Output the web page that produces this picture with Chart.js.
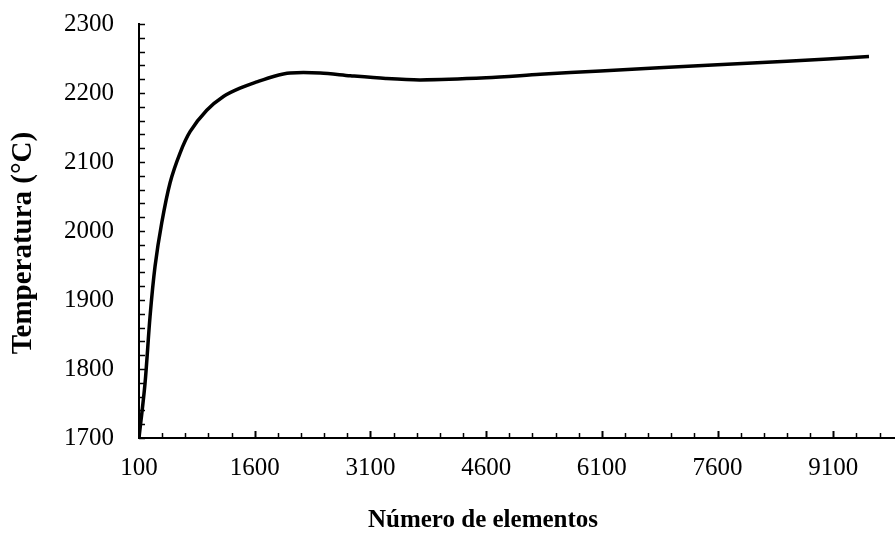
<!DOCTYPE html>
<html>
<head>
<meta charset="utf-8">
<script src="https://cdn.jsdelivr.net/npm/chart.js@4.4.1/dist/chart.umd.min.js"></script>
<style>
  html, body { margin: 0; padding: 0; background: #ffffff; overflow: hidden; }
  #wrap { width: 895px; height: 536px; position: relative; }
</style>
</head>
<body>
<div id="wrap"><canvas id="c" width="895" height="536"></canvas></div>
<script>
// ---- data ----
const elementCounts = [100, 178, 243, 308, 395, 503, 632, 762, 978, 1194, 1410, 1627, 1843, 2059, 2450, 2840, 3300, 3750, 4600, 5300, 6082, 7600, 8500, 9563];
const temperatures  = [1700, 1779, 1876, 1949, 2012, 2070, 2113, 2144, 2175, 2195, 2207, 2216, 2224, 2229, 2229, 2225, 2221, 2219, 2222, 2227, 2232, 2241, 2246, 2253];

const xTickLabels = [100, 1600, 3100, 4600, 6100, 7600, 9100];
const yTickLabels = [1700, 1800, 1900, 2000, 2100, 2200, 2300];
const xMinorStep = 300;
const yMinorStep = 20;
const xAxisMin = 100, xAxisMax = 9900;
const yAxisMin = 1700, yAxisMax = 2300;

const xTitle = 'Número de elementos';
const yTitle = 'Temperatura (°C)';

const serif = "'Liberation Serif', 'Times New Roman', serif";

// inward tick marks + axis titles
const axisDecor = {
  id: 'axisDecor',
  afterDraw(chart) {
    const ctx = chart.ctx;
    const xs = chart.scales.x, ys = chart.scales.y;
    const area = chart.chartArea;
    ctx.save();
    ctx.strokeStyle = '#000';
    ctx.lineWidth = 1.5;
    for (let v = yAxisMin; v <= yAxisMax + 1e-9; v += yMinorStep) {
      const py = Math.round(ys.getPixelForValue(v)) + 0.5;
      ctx.beginPath();
      ctx.moveTo(area.left, py);
      ctx.lineTo(area.left + 6, py);
      ctx.stroke();
    }
    for (let v = xAxisMin; v <= xAxisMax + 1e-9; v += xMinorStep) {
      const px = Math.round(xs.getPixelForValue(v)) + 0.5;
      const major = xTickLabels.includes(v);
      ctx.lineWidth = major ? 2 : 1.5;
      ctx.beginPath();
      ctx.moveTo(px, area.bottom);
      ctx.lineTo(px, area.bottom - (major ? 7 : 5));
      ctx.stroke();
    }
    ctx.fillStyle = '#000';
    ctx.textAlign = 'center';
    ctx.textBaseline = 'middle';
    ctx.font = "bold 25px " + serif;
    ctx.fillText(xTitle, 483, 521);
    ctx.translate(24, 243);
    ctx.rotate(-Math.PI / 2);
    ctx.font = "bold 29px " + serif;
    ctx.fillText(yTitle, 0, 0);
    ctx.restore();
  }
};

new Chart(document.getElementById('c'), {
  type: 'line',
  data: {
    datasets: [{
      data: elementCounts.map((x, i) => ({ x: x, y: temperatures[i] })),
      borderColor: '#000000',
      borderWidth: 3.5,
      pointRadius: 0,
      fill: false,
      tension: 0.3,
      borderCapStyle: 'butt'
    }]
  },
  options: {
    responsive: false,
    animation: false,
    devicePixelRatio: 1,
    layout: { padding: { top: 0, right: 0, left: 0, bottom: 0 } },
    plugins: { legend: { display: false }, tooltip: { enabled: false } },
    scales: {
      x: {
        type: 'linear',
        min: xAxisMin,
        max: xAxisMax,
        afterBuildTicks: (s) => { s.ticks = xTickLabels.map(v => ({ value: v })); },
        afterFit: (s) => { s.height = 98; },
        ticks: {
          color: '#000',
          font: { family: serif, size: 25 },
          padding: 15,
          maxRotation: 0,
          autoSkip: false,
          callback: (v) => String(v)
        },
        grid: { display: true, drawOnChartArea: false, drawTicks: false },
        border: { display: true, color: '#000', width: 2 },
        title: { display: false, text: xTitle }
      },
      y: {
        type: 'linear',
        min: yAxisMin,
        max: yAxisMax,
        afterBuildTicks: (s) => { s.ticks = yTickLabels.map(v => ({ value: v })); },
        afterFit: (s) => { s.width = 139; },
        ticks: {
          color: '#000',
          font: { family: serif, size: 25 },
          padding: 9,
          autoSkip: false,
          callback: (v) => String(v)
        },
        grid: { display: true, drawOnChartArea: false, drawTicks: true, tickLength: 16, tickColor: 'rgba(0,0,0,0)' },
        border: { display: true, color: '#000', width: 2 },
        title: { display: false, text: yTitle }
      }
    }
  },
  plugins: [axisDecor]
});
</script>
</body>
</html>
